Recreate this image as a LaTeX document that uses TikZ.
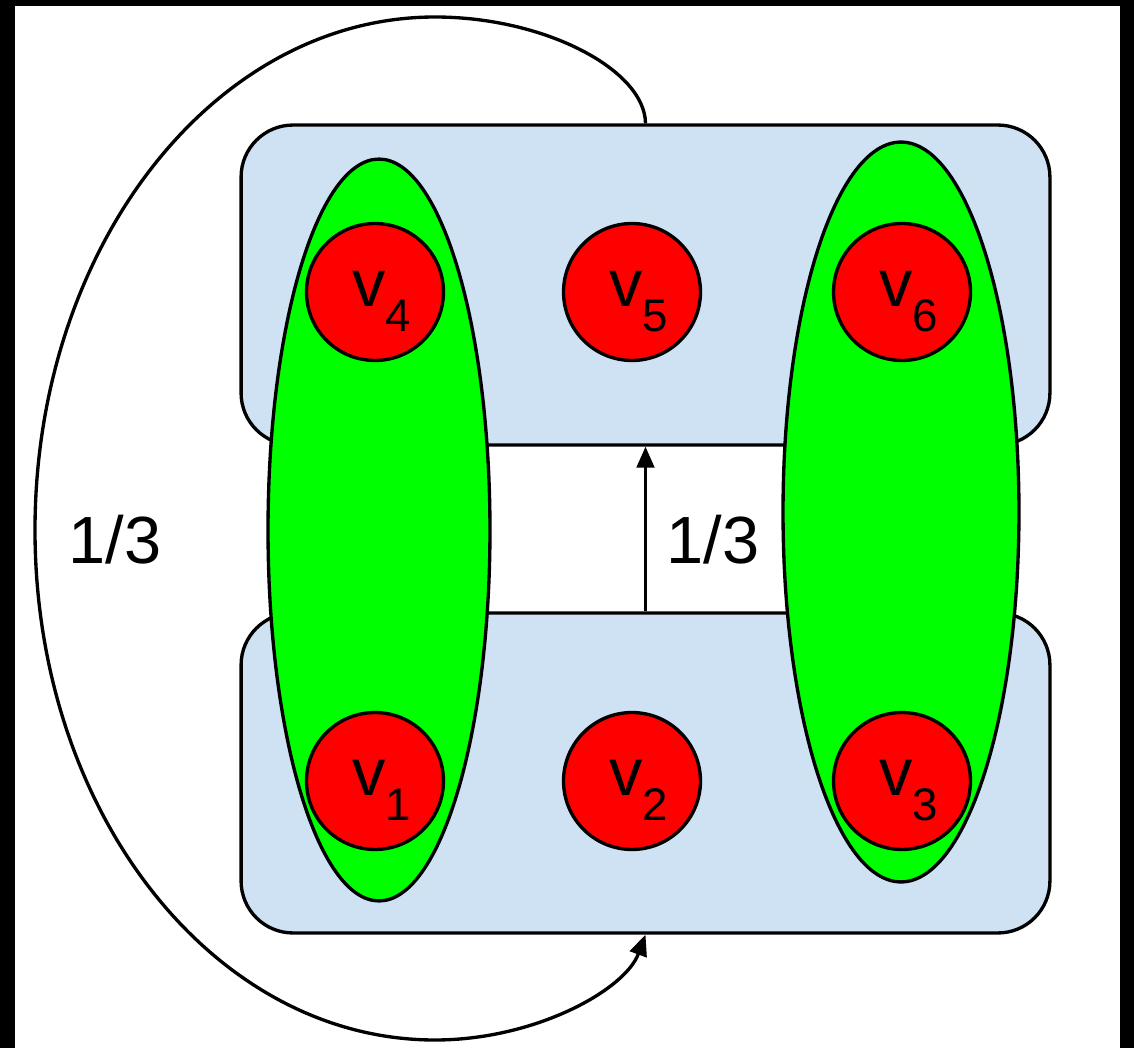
\documentclass[tikz,border=0pt]{standalone}
\usepackage{fontspec}
\setmainfont{Liberation Sans}
\usetikzlibrary{shapes.geometric,arrows.meta}
\definecolor{panelblue}{HTML}{CFE2F3}
\definecolor{setgreen}{HTML}{00FF00}
\definecolor{vertred}{HTML}{FF0000}
\newcommand\vname[1]{\fontsize{38pt}{38pt}\selectfont v\raisebox{-14.7pt}{\fontsize{26pt}{26pt}\selectfont #1}}
\tikzset{
  panel/.style={draw=black, fill=panelblue, line width=1.9pt, rounded corners=1.04cm,
    minimum width=16.18cm, minimum height=6.4cm, inner sep=0pt},
  hyper/.style={draw=black, fill=setgreen, line width=1.9pt, ellipse, inner sep=0pt},
  vert/.style={draw=black, fill=vertred, line width=1.9pt, circle, minimum size=2.74cm, inner sep=0pt},
  vtext/.style={anchor=base west, inner sep=0pt, text=black},
  weight/.style={font=\fontsize{38pt}{38pt}\selectfont, inner sep=0pt},
  conn/.style={draw=black, line width=1.9pt, -{Triangle[length=12pt,width=10pt]}}
}
\begin{document}
\begin{tikzpicture}[x=0.02cm, y=-0.02cm]
  % frame
  \fill[black] (0,0) rectangle (1134,1048);
  \fill[white] (15,6) rectangle (1120,1048);
  \useasboundingbox (0,0) rectangle (1134,1048);

  % two blue panels
  \node[panel] (top) at (645.5,285) {};
  \node[panel] (bot) at (645.5,773) {};

  % arrow between the panels
  \draw[conn] (bot.north) -- (top.south);
  \node[weight] (w1) at (713,540) {1/3};

  % green hyperedges
  \node[hyper, minimum width=4.44cm, minimum height=14.84cm] (hl) at (379,530) {};
  \node[hyper, minimum width=4.72cm, minimum height=14.8cm] (hr) at (901,512) {};

  % vertices
  \node[vert] (v4) at (375,292) {};
  \node[vert] (v5) at (632,292) {};
  \node[vert] (v6) at (902,292) {};
  \node[vert] (v1) at (375,781) {};
  \node[vert] (v2) at (632,781) {};
  \node[vert] (v3) at (902,781) {};
  \foreach \n in {1,...,6}{
    \node[vtext] (l\n) at ([shift={(-23,14)}]v\n.center) {\vname{\n}};
  }

  % big loop from the top panel to the bottom panel
  \draw[conn] (top.north) .. controls (645,70) and (545,17) .. (435,17)
    .. controls (214,17) and (35,247) .. (35,530)
    .. controls (35,813) and (214,1040) .. (435,1040)
    .. controls (535,1040) and (625,990) .. (bot.south);
  \node[weight] (w2) at (115,540) {1/3};
\end{tikzpicture}
\end{document}
